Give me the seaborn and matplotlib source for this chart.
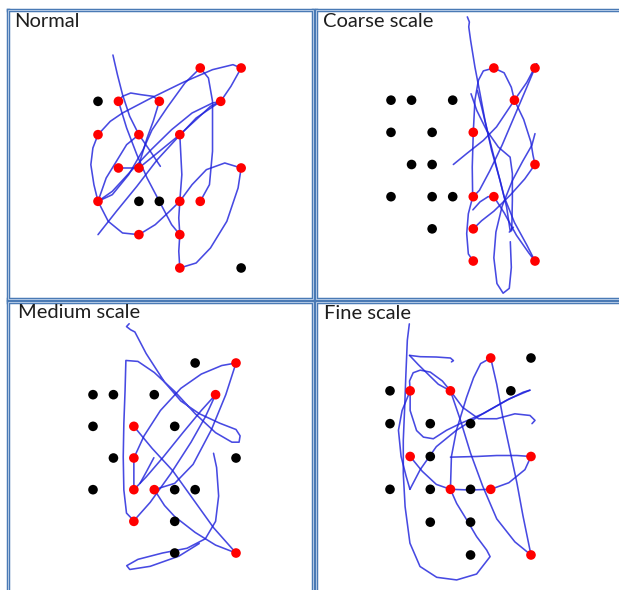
import numpy as np
import pandas as pd
import matplotlib
matplotlib.use("Agg")
import matplotlib.pyplot as plt
import seaborn as sns
from matplotlib.patches import Rectangle

# ---------------- data (grid units: column, row) ----------------
TITLES = ["Normal", "Coarse scale", "Medium scale", "Fine scale"]

NORMAL_BLACK_COL = [0, 2, 3, 7]
NORMAL_BLACK_ROW = [1, 4, 4, 6]
NORMAL_RED_COL = [5, 7, 1, 3, 6, 0, 2, 4, 1, 2, 7, 0, 4, 5, 2, 4, 4]
NORMAL_RED_ROW = [0, 0, 1, 1, 1, 2, 2, 2, 3, 3, 3, 4, 4, 4, 5, 5, 6]

COARSE_BLACK_COL = [0, 1, 3, 0, 2, 1, 2, 0, 2, 3, 2]
COARSE_BLACK_ROW = [1, 1, 1, 2, 2, 3, 3, 4, 4, 4, 5]
COARSE_RED_COL = [5, 7, 6, 4, 7, 4, 5, 4, 4, 7]
COARSE_RED_ROW = [0, 0, 1, 2, 3, 4, 4, 5, 6, 6]

MEDIUM_BLACK_COL = [5, 0, 1, 3, 0, 4, 1, 7, 0, 4, 5, 4, 4]
MEDIUM_BLACK_ROW = [0, 1, 1, 1, 2, 2, 3, 3, 4, 4, 4, 5, 6]
MEDIUM_RED_COL = [7, 6, 2, 2, 2, 3, 2, 7]
MEDIUM_RED_ROW = [0, 1, 2, 3, 4, 4, 5, 6]

FINE_BLACK_COL = [7, 0, 6, 0, 2, 4, 2, 0, 2, 4, 2, 4, 4]
FINE_BLACK_ROW = [0, 1, 1, 2, 2, 2, 3, 4, 4, 4, 5, 5, 6]
FINE_RED_COL = [5, 1, 3, 1, 7, 3, 5, 7]
FINE_RED_ROW = [0, 1, 1, 3, 3, 4, 4, 6]

# hand-drawn traces (grid units)
NORMAL_STROKES = [
    [(0.73, -0.39), (0.8, -0.2), (0.95, 0.2), (1.2, 0.8), (1.55, 1.45), (2, 2), (2.45, 2.4), (3.05, 2.95)],
    [(0, 4), (-0.2, 3.5), (-0.35, 2.9), (-0.25, 2.4), (0, 2), (0.6, 1.6), (1.2, 1.35), (2.6, 0.9), (4.2, 0.42),
     (5.6, 0.05), (6.6, -0.1), (7, 0), (6.5, 0.55), (6, 1), (5.6, 1.05), (4.6, 1.35), (3.6, 1.85), (2.6, 2.45),
     (1.6, 3.1), (0.7, 3.7), (0, 4)],
    [(0, 4), (0.5, 4.6), (1.2, 4.95), (2, 5), (2.8, 4.7), (3.5, 4.3), (4, 4), (4.6, 3.5), (5.3, 3.05), (6.2, 2.85),
     (7, 3), (6.85, 3.6), (6.3, 4.6), (5.5, 5.4), (4.8, 5.85), (4, 6), (3.95, 5.5), (4, 5), (3.95, 4.5), (4, 4),
     (4.1, 3.2), (4, 2), (4.8, 1.55), (5.5, 1.15), (6, 1)],
    [(5, 0), (5.4, 0.3), (5.6, 1.0), (5.6, 2.5), (5.45, 3.5), (5, 4)],
    [(5, 0), (4.25, 0.45), (3.4, 1.17), (2.64, 1.86), (2.2, 2.46), (1.5, 3.2), (0.7, 3.8), (0, 4)],
    [(0, 5), (0.9, 4.3), (1.9, 3.55), (2.9, 2.75), (3.8, 2.15), (4.8, 1.5), (6, 1)],
    [(1, 1), (1.2, 0.85), (1.6, 0.75), (2.1, 0.8), (2.7, 0.85), (3, 1), (2.7, 1.6), (2.4, 2.1), (2.1, 2.7), (2, 3)],
    [(1, 1), (1.4, 1.8), (1.9, 2.6), (2.4, 3.3), (3.0, 4.0), (3.6, 4.7), (4, 5)],
    [(1, 3), (2, 3), (3, 2.5), (4, 2)],
    [(0, 4), (0.4, 3.3), (0.9, 2.8), (1.4, 2.3), (2, 2)],
]

COARSE_STROKES = [
    [(3.71, -1.59), (3.81, -1.43), (3.78, -1.28), (3.87, -0.86), (4.08, -0.03), (4.33, 0.8), (4.57, 1.63),
     (4.89, 2.56), (5.3, 3.49), (5.62, 4.32), (5.79, 5.05), (5.95, 4.95)],
    [(5, 0), (4.49, 0.09), (4.25, 0.38), (4.08, 1.0), (4, 2), (3.95, 3.08), (3.97, 4.01), (3.76, 4.53),
     (3.68, 5.15), (3.76, 5.78), (4, 6)],
    [(5, 0), (5.5, 0.15), (5.85, 0.6), (6, 1), (6.45, 1.6), (6.8, 2.3), (6.9, 2.7), (7, 3), (6.5, 3.45),
     (5.8, 3.95), (5.0, 4.45), (4.4, 4.75), (4, 5)],
    [(7.08, -0.13), (6.6, 0.45), (6, 1), (5.13, 1.83), (4.49, 2.25), (3.68, 2.66), (3.03, 3.0)],
    [(7.08, -0.13), (6.6, 0.6), (6.0, 1.5), (5.4, 2.4), (4.8, 3.2), (4.3, 3.8), (4, 4)],
    [(3.89, 0.8), (4.17, 1.32), (4.65, 1.94), (5.22, 2.46), (5.79, 2.77), (5.9, 3.28), (5.9, 4.12), (5.87, 5.05),
     (5.75, 5.1)],
    [(7.0, 2.04), (6.85, 2.4), (6.4, 2.9), (5.9, 3.5), (5.4, 4.3), (5.1, 5.1), (5.0, 5.9), (5.15, 6.7),
     (5.45, 7.0), (5.75, 6.85), (5.85, 6.2), (5.8, 5.4)],
    [(3.98, 4.41), (4.33, 4.16), (4.72, 4.0), (5, 4), (5.5, 4.5), (6.1, 5.2), (6.7, 5.75), (7, 6)],
    [(7, 6), (6.6, 5.5), (6.0, 4.8), (5.5, 4.0), (5.1, 3.0), (4.7, 2.0), (4.4, 1.2), (4.2, 0.7)],
]

MEDIUM_STROKES = [
    [(1.77, -1.24), (1.64, -1.15), (1.84, -1.05), (2.05, -0.98), (2.6, -0.3), (3.5, 0.6), (4.3, 1.2),
     (5.2, 1.6), (6.2, 1.9), (7.0, 2.1), (7.2, 2.3), (7.15, 2.5), (6.8, 2.5), (6.0, 2.2), (5.0, 1.6),
     (4.0, 0.9), (3.0, 0.3), (2.2, -0.05), (1.61, -0.08), (1.57, 0.86), (1.51, 1.91), (1.48, 2.96),
     (1.51, 4.01), (1.64, 4.74), (2, 4.98)],
    [(2, 4.98), (2.8, 4.4), (3.8, 3.5), (4.8, 2.5), (5.5, 1.7), (6, 1), (5.3, 1.5), (4.4, 2.2), (3.4, 3.0),
     (2.6, 3.6), (2, 4)],
    [(2, 4), (2, 3), (2.5, 2.3), (3.3, 1.5), (4.3, 0.8), (5.3, 0.35), (6.3, 0.08), (7, 0), (6.5, 1.0),
     (5.8, 2.1), (4.9, 3.2), (4.0, 3.8), (3, 4)],
    [(2, 2), (2.9, 2.7), (3.9, 3.4), (4.9, 4.3), (5.9, 5.2), (7, 6)],
    [(3, 4), (3.5, 4.5), (4.0, 4.85), (5.0, 5.35), (6.0, 5.75), (7, 6)],
    [(5.9, 2.85), (6.05, 3.3), (6.15, 4.2), (6.0, 5.0), (5.5, 5.55), (4.6, 5.85), (3.4, 6.0), (2.2, 6.2),
     (1.65, 6.4), (1.8, 6.52), (2.8, 6.42), (4.2, 6.1), (5.2, 5.7)],
    [(2.98, 2.99), (2.6, 3.45), (2.3, 3.8)],
]

FINE_STROKES = [
    [(0.96, -1.04), (0.86, -0.54), (0.79, 0.48), (0.73, 1.49), (0.66, 2.5), (0.66, 3.52), (0.75, 4.53),
     (0.99, 5.64), (1.49, 6.35), (2.32, 6.68), (3.31, 6.76), (4.3, 6.58), (4.97, 6.05), (4.8, 5.85),
     (4.3, 5.44), (3.81, 4.93), (3.31, 4.43), (3, 4)],
    [(0.97, -0.08), (1.5, -0.04), (2.3, -0.03), (3.0, 0.0), (3.15, 0.08), (3.05, 0.12)],
    [(0.97, -0.08), (1.4, 0.2), (1.9, 0.5), (2.4, 0.8), (3, 1), (3.6, 1.5), (4.4, 1.85), (5.3, 1.85),
     (6.2, 1.7), (6.95, 1.75), (7.2, 1.9), (7.05, 2.0)],
    [(1, 1), (0.97, 0.7), (1.15, 0.45), (1.5, 0.37), (2.0, 0.43), (2.6, 0.7), (3, 1)],
    [(1, 1), (1.0, 1.6), (1.32, 2.21), (1.66, 2.41), (2.15, 2.46), (2.81, 2.2), (3.48, 2.0), (4.64, 1.69),
     (5.79, 1.29), (6.62, 1.04), (6.95, 0.98)],
    [(5, 0), (4.5, 0.17), (4.15, 0.6), (3.8, 1.2), (3.3, 2.2), (3.05, 3.0), (3, 4)],
    [(5, 0), (5.3, 0.8), (5.6, 1.8), (5.95, 2.8), (6.3, 3.8), (6.6, 4.8), (7, 6)],
    [(1, 3), (1.6, 3.45), (2.3, 3.85), (3, 4), (4, 4.02), (5, 4), (5.9, 3.8), (6.7, 3.4), (7, 3), (6.3, 2.97),
     (5.3, 2.97), (4.3, 3.0), (3.0, 3.02)],
    [(0.99, 4.0), (1.5, 3.4), (2.3, 2.7), (3.3, 2.2), (4.6, 1.7), (5.9, 1.25), (6.95, 0.98)],
    [(1, 1), (0.6, 1.6), (0.42, 2.2), (0.55, 3.0), (0.8, 3.6), (0.99, 4.0)],
    [(3, 1), (3.5, 1.9), (4.0, 2.9), (4.6, 3.9), (5.3, 4.9), (6.2, 5.6), (7, 6)],
]

PANEL_DATA = [
    (NORMAL_BLACK_COL, NORMAL_BLACK_ROW, NORMAL_RED_COL, NORMAL_RED_ROW, NORMAL_STROKES),
    (COARSE_BLACK_COL, COARSE_BLACK_ROW, COARSE_RED_COL, COARSE_RED_ROW, COARSE_STROKES),
    (MEDIUM_BLACK_COL, MEDIUM_BLACK_ROW, MEDIUM_RED_COL, MEDIUM_RED_ROW, MEDIUM_STROKES),
    (FINE_BLACK_COL, FINE_BLACK_ROW, FINE_RED_COL, FINE_RED_ROW, FINE_STROKES),
]

# ---------------- layout (pixels) ----------------
W, H = 619, 590
LAYOUT = [
    dict(box=(8, 9.5, 312.5, 298.5), origin=(98, 68), step=(20.45, 33.33), title=(14, 13)),
    dict(box=(316, 9.5, 626, 298.5), origin=(391, 68), step=(20.57, 32.17), title=(323, 13)),
    dict(box=(8, 302, 312.5, 596), origin=(93, 363), step=(20.43, 31.67), title=(18, 304)),
    dict(box=(316, 302, 626, 596), origin=(390, 358), step=(20.14, 32.83), title=(324, 305)),
]

sns.set_theme(style="white")
plt.rcParams["font.family"] = ["Lato", "DejaVu Sans"]

fig = plt.figure(figsize=(W / 100, H / 100), dpi=100)
fig.patch.set_facecolor("white")

for (bcol, brow, rcol, rrow, strokes), lay, title in zip(PANEL_DATA, LAYOUT, TITLES):
    l, t, r, b = lay["box"]
    x0, y0 = lay["origin"]
    dx, dy = lay["step"]
    ax = fig.add_axes([l / W, 1 - b / H, (r - l) / W, (b - t) / H])

    rows = []
    for k, s in enumerate(strokes):
        for x, y in s:
            rows.append((k, x, y))
    sdf = pd.DataFrame(rows, columns=["stroke", "x", "y"])
    sns.lineplot(data=sdf, x="x", y="y", units="stroke", estimator=None, sort=False,
                 color="#1f22dc", linewidth=1.15, alpha=0.82, legend=False, ax=ax,
                 solid_joinstyle="round", solid_capstyle="round")

    dots = pd.DataFrame({
        "col": list(bcol) + list(rcol),
        "row": list(brow) + list(rrow),
        "kind": ["black"] * len(bcol) + ["red"] * len(rcol),
    })
    sns.scatterplot(data=dots, x="col", y="row", hue="kind",
                    palette={"black": "#000000", "red": "#ff0000"},
                    s=48, linewidth=0, legend=False, ax=ax, zorder=3)

    ax.set_xlim((l - x0) / dx, (r - x0) / dx)
    ax.set_ylim((b - y0) / dy, (t - y0) / dy)
    ax.set_xticks([])
    ax.set_yticks([])
    ax.set_xlabel("")
    ax.set_ylabel("")
    ax.set_facecolor("white")
    for sp in ax.spines.values():
        sp.set_visible(True)
        sp.set_color("#4a7ab5")
        sp.set_linewidth(2.5)
    ax.add_patch(Rectangle((0, 0), 1, 1, transform=ax.transAxes, fill=False,
                           edgecolor="#c3d5ec", linewidth=0.6, clip_on=False, zorder=5))

    tx, ty = lay["title"]
    fig.text(tx / W, 1 - ty / H, title, fontsize=14.5, color="#1e1e1e", ha="left", va="top")

fig.savefig("out.png", dpi=100, facecolor="white")
